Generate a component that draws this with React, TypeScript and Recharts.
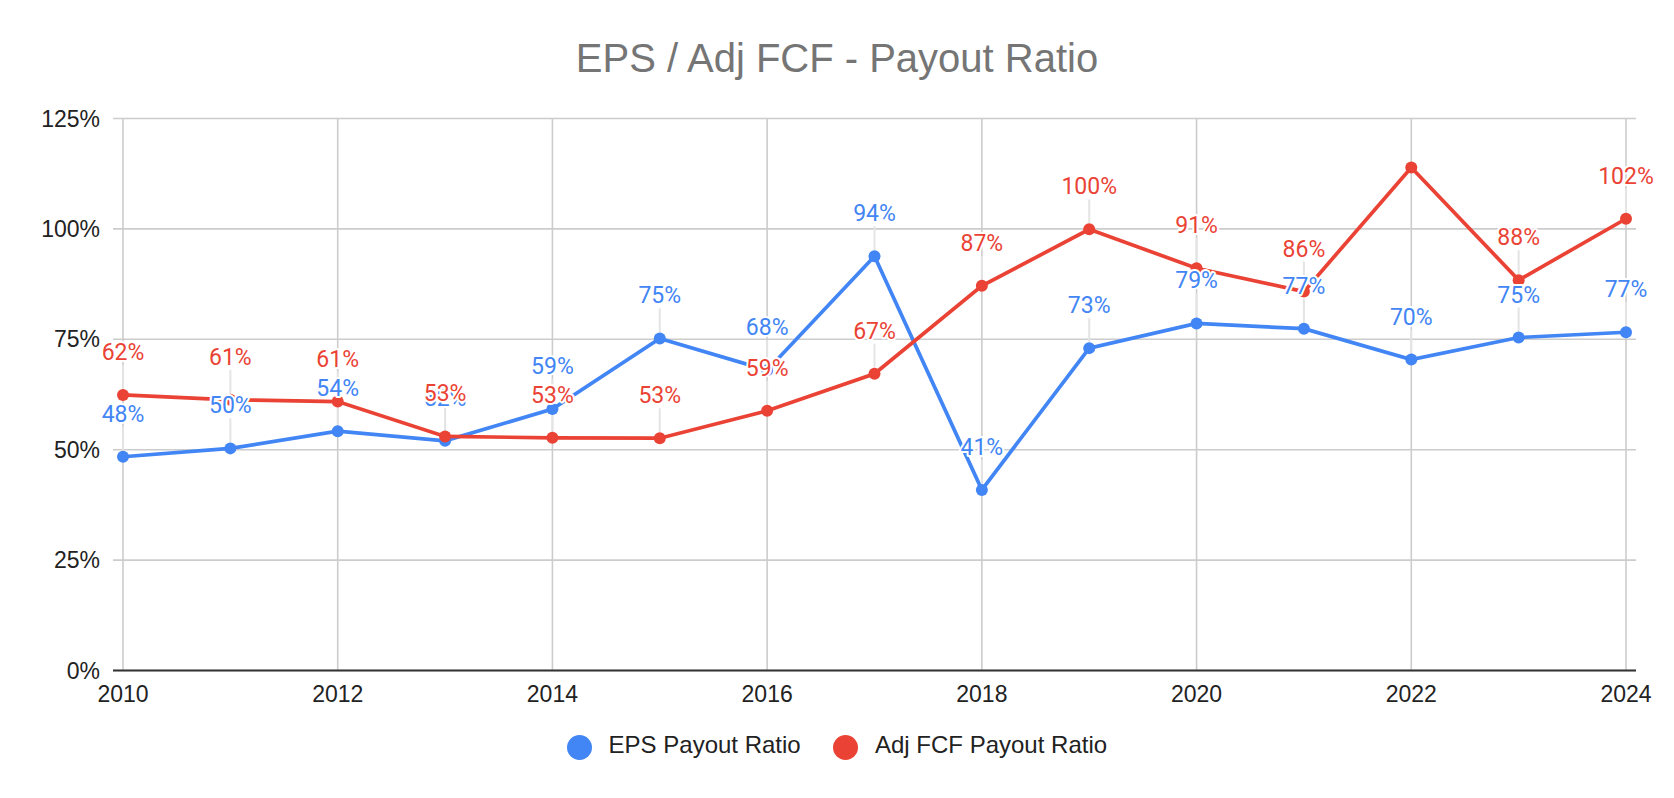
import React from 'react';
import { LineChart, Line, XAxis, YAxis, CartesianGrid, LabelList, Customized } from 'recharts';

const years = [2010, 2011, 2012, 2013, 2014, 2015, 2016, 2017, 2018, 2019, 2020, 2021, 2022, 2023, 2024];
const epsPayout = [48.4, 50.3, 54.2, 52.0, 59.2, 75.2, 68.0, 93.8, 40.9, 73.0, 78.6, 77.4, 70.4, 75.4, 76.6];
const adjFcfPayout = [62.4, 61.3, 60.9, 53.0, 52.7, 52.6, 58.8, 67.2, 87.1, 99.9, 91.1, 85.8, 113.9, 88.4, 102.3];
const xTicks = [2010, 2012, 2014, 2016, 2018, 2020, 2022, 2024];
const yTicks = [0, 25, 50, 75, 100, 125];
const hiddenFcfLabelYears = [2022];

const TITLE = 'EPS / Adj FCF - Payout Ratio';
const BLUE = '#4285F4';
const RED = '#EA4335';

const series = [
  { key: 'eps', name: 'EPS Payout Ratio', color: BLUE, hidden: [] as number[] },
  { key: 'fcf', name: 'Adj FCF Payout Ratio', color: RED, hidden: hiddenFcfLabelYears },
];

const data = years.map((year, i) => ({ year, eps: epsPayout[i], fcf: adjFcfPayout[i] }));

const LABEL_OFFSET = 43;
const ARIAL = "Arial, 'Liberation Sans', sans-serif";

const makeStem = (hidden: number[]) => (props: any) => {
  const { cx, cy, index } = props;
  const k = `stem-${index}`;
  if (cx == null || cy == null || hidden.includes(years[index])) return <g key={k} />;
  return (
    <line key={k} x1={cx} x2={cx} y1={cy - LABEL_OFFSET + 13} y2={cy - 6} stroke="#e4e4e4" strokeWidth={2} />
  );
};

const makeLabel = (color: string, hidden: number[]) => (props: any) => {
  const { x, y, value, index } = props;
  if (value == null || x == null || y == null || hidden.includes(years[index])) return null;
  return (
    <text
      x={x}
      y={y - LABEL_OFFSET}
      dy={8}
      textAnchor="middle"
      fill={color}
      stroke="#ffffff"
      strokeWidth={4}
      strokeLinejoin="round"
      paintOrder="stroke"
      style={{ fontFamily: "Roboto, 'Noto Sans', sans-serif", fontSize: 23 }}
    >
      {Math.round(value)}%
    </text>
  );
};

const Title = () => (
  <text x={837} y={72} textAnchor="middle" fill="#757575" style={{ fontFamily: ARIAL, fontSize: 40 }}>
    {TITLE}
  </text>
);

const verticalGen = (props: any) => {
  const xAxis = props?.xAxis;
  const scale = xAxis?.scale;
  if (typeof scale === 'function') {
    return xTicks.map((t) => scale(t));
  }
  const off = props.offset;
  return xTicks.map((t) => off.left + 10 + ((t - 2010) / 14) * (off.width - 20));
};

export default function App() {
  return (
    <div style={{ position: 'absolute', left: 0, top: 0, width: 1674, height: 798, background: '#fff' }}>
      <LineChart width={1674} height={798} data={data} margin={{ top: 118.5, right: 38, left: 0, bottom: 87.5 }}>
        <CartesianGrid
          stroke="#cccccc"
          strokeWidth={1.6}
          horizontal
          vertical
          verticalCoordinatesGenerator={verticalGen}
        />
        <XAxis
          dataKey="year"
          type="number"
          domain={[2010, 2024]}
          ticks={xTicks}
          padding={{ left: 10, right: 10 }}
          height={40}
          tickLine={false}
          tickSize={0}
          tickMargin={15.5}
          axisLine={{ stroke: '#333333', strokeWidth: 1.8 }}
          tick={{ fill: '#222222', fontSize: 23, fontFamily: ARIAL }}
          interval={0}
        />
        <YAxis
          type="number"
          domain={[0, 125]}
          ticks={yTicks}
          width={113}
          tickLine={false}
          tickSize={0}
          tickMargin={13}
          axisLine={false}
          tickFormatter={(v: number) => `${v}%`}
          tick={{ fill: '#222222', fontSize: 23, fontFamily: ARIAL }}
          interval={0}
        />
        {series.map((s) => (
          <Line
            key={`stem-${s.key}`}
            dataKey={s.key}
            stroke="none"
            legendType="none"
            dot={makeStem(s.hidden)}
            activeDot={false}
            isAnimationActive={false}
          />
        ))}
        {series.map((s) => (
          <Line
            key={`line-${s.key}`}
            dataKey={s.key}
            name={s.name}
            stroke={s.color}
            strokeWidth={3.7}
            dot={{ r: 6, fill: s.color, stroke: s.color, strokeWidth: 0 }}
            activeDot={false}
            isAnimationActive={false}
          />
        ))}
        {series.map((s) => (
          <Line
            key={`label-${s.key}`}
            dataKey={s.key}
            stroke="none"
            legendType="none"
            dot={false}
            activeDot={false}
            isAnimationActive={false}
          >
            <LabelList dataKey={s.key} content={makeLabel(s.color, s.hidden)} />
          </Line>
        ))}
        <Customized component={Title} />
      </LineChart>
      <div
        style={{
          position: 'absolute',
          left: 0,
          top: 733,
          width: 1674,
          height: 28,
          display: 'flex',
          justifyContent: 'center',
          alignItems: 'center',
          fontFamily: ARIAL,
          fontSize: 24,
          color: '#222222',
        }}
      >
        {series.map((s, i) => (
          <div key={s.key} style={{ display: 'flex', alignItems: 'center', marginLeft: i === 0 ? 0 : 32.6 }}>
            <div style={{ width: 25, height: 25, borderRadius: '50%', background: s.color, marginRight: 16.7 }} />
            <span style={{ lineHeight: '28px', whiteSpace: 'nowrap', position: 'relative', top: -2 }}>{s.name}</span>
          </div>
        ))}
      </div>
    </div>
  );
}
